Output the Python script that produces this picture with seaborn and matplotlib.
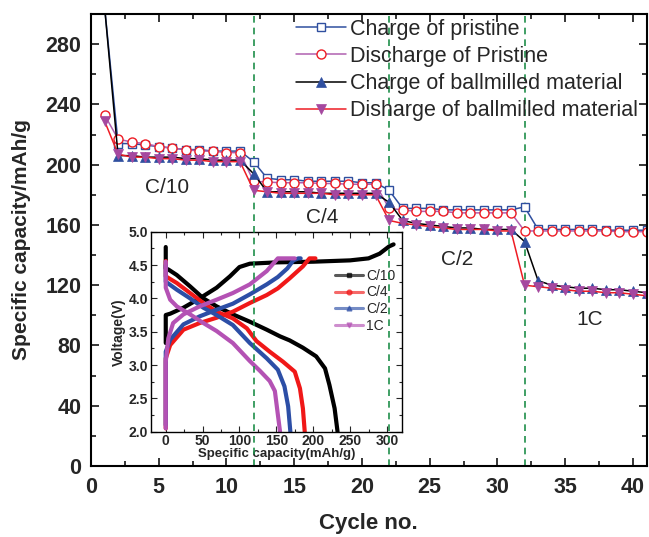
import matplotlib
matplotlib.use('Agg')
import matplotlib.pyplot as plt
from matplotlib.lines import Line2D
from matplotlib.ticker import MultipleLocator, FormatStrFormatter
import seaborn as sns

# cycling data (mAh/g)
cycles = list(range(1, 42))
charge_pristine = [305, 214, 214, 213, 212, 211, 210, 210, 209, 209, 209,
                   202,
                   191, 190, 190, 189, 189, 189, 189, 188, 188,
                   183,
                   171, 171, 171, 170, 170, 170, 170, 170, 170,
                   172,
                   157, 157, 157, 157, 157, 156.5, 156.5, 156.5, 156.5]
discharge_pristine = [233, 217, 215, 214, 212, 211, 210, 209, 209, 208, 208,
                      189,
                      188.5, 188, 188, 188, 187.5, 187.5, 187, 187, 187,
                      171,
                      170, 169, 169, 169, 168, 168, 168, 168, 168,
                      156,
                      156, 156, 156, 156, 156, 156, 155.5, 155.5, 155.5]
charge_ballmilled = [305, 206, 206, 205, 205, 205, 204, 204, 203, 203, 203,
                     194,
                     182, 182, 182, 182, 181, 181, 181, 181, 181,
                     175,
                     163, 161, 160, 159, 158, 158, 157, 157, 157,
                     149,
                     123, 120, 119, 118, 118, 117, 117, 116, 115]
discharge_ballmilled = [229, 207, 205, 205, 204, 204, 203, 203, 202, 202, 202,
                        183,
                        182, 181, 181, 181, 181, 180, 180, 180, 180,
                        163,
                        161, 160, 159, 158, 157, 157, 157, 156, 156,
                        120,
                        119, 118, 117, 116, 116, 115, 115, 114, 113]
rate_change_cycles = [12, 22, 32]

# inset voltage profiles
c10_charge_cap = [0, 0, 0, 6, 24, 46, 69, 87, 100, 114, 150, 200, 250, 275, 290, 303, 309]
c10_charge_v = [3.33, 3.55, 3.75, 3.77, 3.86, 4.00, 4.16, 4.33, 4.47, 4.52, 4.54, 4.55, 4.57, 4.60, 4.67, 4.78, 4.81]
c10_dis_cap = [0, 0, 4, 15, 33, 51, 69, 91, 114, 137, 155, 168, 186, 204, 216, 222, 229, 233]
c10_dis_v = [4.77, 4.45, 4.43, 4.35, 4.18, 4.00, 3.88, 3.76, 3.65, 3.53, 3.43, 3.37, 3.26, 3.13, 2.95, 2.70, 2.35, 2.00]

c4_charge_cap = [0, 0, 0, 6, 24, 46, 69, 91, 114, 137, 152, 168, 186, 195, 203]
c4_charge_v = [2.05, 2.80, 3.10, 3.30, 3.53, 3.63, 3.71, 3.80, 3.93, 4.05, 4.15, 4.30, 4.48, 4.60, 4.60]
c4_dis_cap = [0, 0, 15, 33, 51, 69, 91, 110, 123, 141, 159, 175, 182, 186, 188.5]
c4_dis_v = [4.56, 4.33, 4.23, 4.08, 3.93, 3.80, 3.70, 3.55, 3.36, 3.20, 3.05, 2.90, 2.65, 2.35, 2.00]

c2_charge_cap = [0, 0, 0, 6, 24, 46, 69, 91, 114, 137, 152, 165, 173, 180, 183]
c2_charge_v = [2.10, 2.80, 3.20, 3.38, 3.61, 3.73, 3.83, 3.92, 4.06, 4.21, 4.32, 4.45, 4.57, 4.60, 4.60]
c2_dis_cap = [0, 0, 15, 33, 51, 69, 91, 114, 137, 152, 161, 166, 169]
c2_dis_v = [4.50, 4.25, 4.13, 4.00, 3.86, 3.75, 3.60, 3.33, 3.10, 2.93, 2.68, 2.38, 2.00]

c1_charge_cap = [0, 0, 0, 3.5, 10, 24, 46, 69, 91, 114, 137, 152, 175]
c1_charge_v = [2.05, 2.60, 3.05, 3.40, 3.63, 3.76, 3.88, 3.98, 4.08, 4.21, 4.41, 4.60, 4.60]
c1_dis_cap = [0, 0, 6, 15, 33, 51, 69, 91, 114, 128, 141, 148, 152, 155]
c1_dis_v = [4.55, 4.16, 3.98, 3.88, 3.76, 3.63, 3.51, 3.33, 3.06, 2.91, 2.76, 2.61, 2.26, 2.00]

sns.set_theme(style="ticks")
plt.rcParams['font.family'] = ['Liberation Sans', 'DejaVu Sans']

fig = plt.figure(figsize=(6.49, 5.37), dpi=100)
ax = fig.add_axes([91 / 649, 71 / 537, 555.5 / 649, 452 / 537])

blue = '#2f4f9f'
red = '#ee1c24'
purple = '#b060b0'
dpurple = '#a5489f'

sns.lineplot(x=cycles, y=charge_pristine, ax=ax, color=blue, lw=1.1, marker='s', markersize=6,
             markerfacecolor='white', markeredgecolor=blue, markeredgewidth=1, label='Charge of pristine')
sns.lineplot(x=cycles, y=discharge_pristine, ax=ax, color=purple, lw=1.1, marker='o', markersize=6.5,
             markerfacecolor='white', markeredgecolor=red, markeredgewidth=1, label='Discharge of Pristine')
sns.lineplot(x=cycles, y=charge_ballmilled, ax=ax, color='black', lw=1.1, marker='^', markersize=7.5,
             markerfacecolor=blue, markeredgecolor=blue, markeredgewidth=0.5,
             label='Charge of ballmilled material')
sns.lineplot(x=cycles, y=discharge_ballmilled, ax=ax, color=red, lw=1.1, marker='v', markersize=7.5,
             markerfacecolor=dpurple, markeredgecolor=dpurple, markeredgewidth=0.5,
             label='Disharge of ballmilled material')

for c in rate_change_cycles:
    ax.axvline(c, color='#1f8f4a', ls=(0, (4, 3)), lw=1.2, zorder=1)

ax.set_xlim(0, 41)
ax.set_ylim(0, 300)
ax.xaxis.set_major_locator(MultipleLocator(5))
ax.xaxis.set_minor_locator(MultipleLocator(2.5))
ax.yaxis.set_minor_locator(MultipleLocator(20))
ax.yaxis.set_ticks([0, 40, 80, 120, 160, 200, 240, 280])
ax.tick_params(which='both', direction='in', top=True, right=True, width=1.3)
ax.tick_params(which='major', length=6, labelsize=15.5)
ax.tick_params(which='minor', length=3.5)
ax.tick_params(axis='x', pad=8)
ax.tick_params(axis='y', pad=7)
for lab in ax.get_xticklabels() + ax.get_yticklabels():
    lab.set_fontweight('bold')
for sp in ax.spines.values():
    sp.set_linewidth(1.5)
    sp.set_color('black')
ax.set_xlabel('Cycle no.', fontsize=16, fontweight='bold', labelpad=11)
ax.set_ylabel('Specific capacity/mAh/g', fontsize=15, fontweight='bold', labelpad=10)

ax.text(5.6, 185, 'C/10', fontsize=15, ha='center', va='center')
ax.text(17.1, 165, 'C/4', fontsize=15, ha='center', va='center')
ax.text(27.0, 137, 'C/2', fontsize=15, ha='center', va='center')
ax.text(36.8, 97, '1C', fontsize=15, ha='center', va='center')

ax.legend(loc='upper left', bbox_to_anchor=(296 / 649, 1 - 19 / 537), bbox_transform=fig.transFigure,
          frameon=False, fontsize=15.5, borderpad=0, borderaxespad=0, handlelength=2.3,
          handletextpad=0.2, labelspacing=0.28)

# inset with voltage profiles
ax_in = fig.add_axes([151 / 649, 1 - 431.7 / 537, 250.7 / 649, 200 / 537])
ax.set_zorder(3)
ax.patch.set_visible(False)
ax_in.set_zorder(2)

profiles = [
    ('C/10', 'black', 's', c10_charge_cap, c10_charge_v, c10_dis_cap, c10_dis_v),
    ('C/4', '#f01818', 'o', c4_charge_cap, c4_charge_v, c4_dis_cap, c4_dis_v),
    ('C/2', '#2c4ea6', '^', c2_charge_cap, c2_charge_v, c2_dis_cap, c2_dis_v),
    ('1C', '#b452b4', 'v', c1_charge_cap, c1_charge_v, c1_dis_cap, c1_dis_v),
]
handles = []
for name, col, mk, ccap, cv, dcap, dv in profiles:
    sns.lineplot(x=ccap, y=cv, ax=ax_in, color=col, lw=3, sort=False, estimator=None, legend=False)
    sns.lineplot(x=dcap, y=dv, ax=ax_in, color=col, lw=3, sort=False, estimator=None, legend=False)
    handles.append(Line2D([], [], color=col, lw=2.2, alpha=0.65, marker=mk, markersize=3.5,
                          markerfacecolor=col, markeredgecolor=col, label=name))

ax_in.set_xlim(-20, 320)
ax_in.set_ylim(2.0, 5.0)
ax_in.xaxis.set_major_locator(MultipleLocator(50))
ax_in.xaxis.set_minor_locator(MultipleLocator(25))
ax_in.yaxis.set_major_locator(MultipleLocator(0.5))
ax_in.yaxis.set_minor_locator(MultipleLocator(0.25))
ax_in.yaxis.set_major_formatter(FormatStrFormatter('%.1f'))
ax_in.tick_params(which='both', direction='in', top=True, right=True, width=0.8, pad=2)
ax_in.tick_params(which='major', length=4, labelsize=10)
ax_in.tick_params(which='minor', length=2)
for lab in ax_in.get_xticklabels() + ax_in.get_yticklabels():
    lab.set_fontweight('bold')
for sp in ax_in.spines.values():
    sp.set_linewidth(1.0)
    sp.set_color('black')
ax_in.set_xlabel('Specific capacity(mAh/g)', fontsize=9.5, fontweight='bold', labelpad=0)
ax_in.set_ylabel('Voltage(V)', fontsize=10, fontweight='bold', labelpad=2)
ax_in.legend(handles=handles, loc='upper left', bbox_to_anchor=(335 / 649, 1 - 269 / 537),
             bbox_transform=fig.transFigure, frameon=False, fontsize=10, borderpad=0,
             borderaxespad=0, handlelength=2.0, handletextpad=0.25, labelspacing=0.18)

fig.savefig('out.png', dpi=100)
